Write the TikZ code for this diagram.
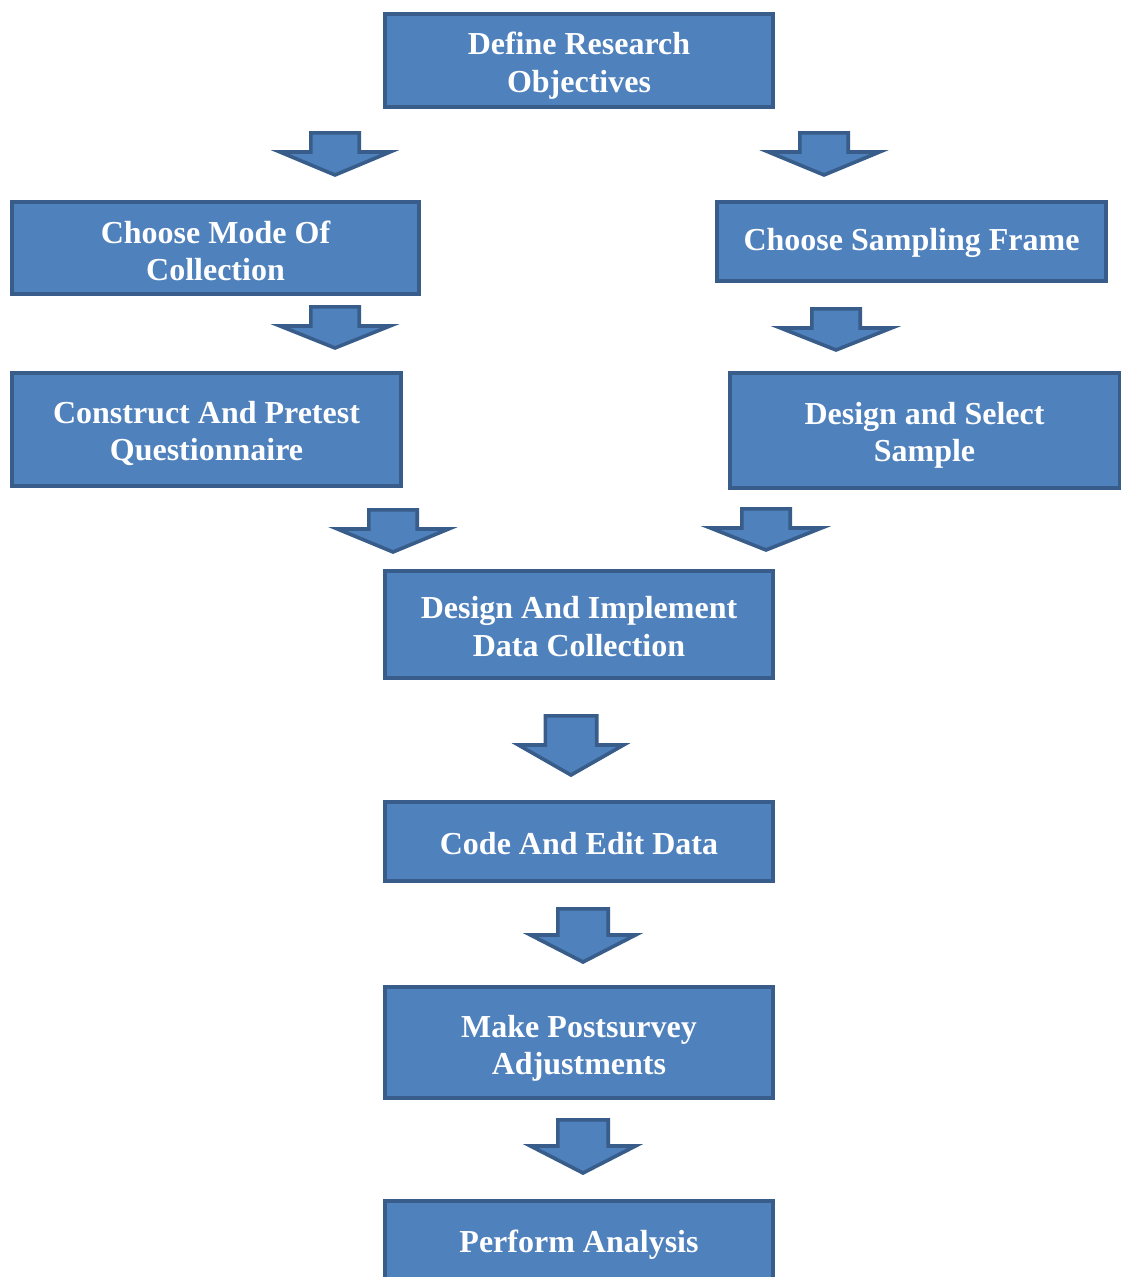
\documentclass[tikz,border=0pt]{standalone}
\usepackage{fontspec}
\setmainfont{Liberation Serif}
\definecolor{boxfill}{HTML}{4F81BD}
\definecolor{boxedge}{HTML}{385D8A}
\tikzset{
  stage/.style={draw=boxedge, fill=boxfill, line width=4pt, rectangle,
    inner sep=0pt, outer sep=0pt},
  stagetext/.style={align=center, text=white, inner sep=0pt,
    font=\fontsize{32}{37.5}\selectfont\bfseries},
  barrow/.style={draw=boxedge, fill=boxfill, line width=3.6pt, line join=miter}
}
% a stage box with its caption set slightly below the centre
\newcommand\stagebox[7][-3pt]{% [caption shift], name, centre x, centre y, width, height, caption
  \node[stage, minimum width=#5pt, minimum height=#6pt] (#2) at (#3,#4) {};
  \node[stagetext] (#2-text) at ([yshift=#1]#2.center) {#7};}
% block arrow pointing down: centre x, top, shaft half width, head half width, neck y, tip y
\newcommand\downblock[6]{%
  \draw[barrow] ({#1-#3},#2) -- ({#1+#3},#2) -- ({#1+#3},#5) -- ({#1+#4},#5)
    -- (#1,#6) -- ({#1-#4},#5) -- ({#1-#3},#5) -- cycle;}
\begin{document}
\begin{tikzpicture}[x=1pt, y=-1pt]
\useasboundingbox (0,0) rectangle (1121,1277);

\stagebox[-5pt]{objectives}{579}{60.5}{388}{93}{Define Research\\Objectives}
\stagebox{mode}{215.5}{248}{407}{92}{Choose Mode Of\\Collection}
\stagebox[-1.5pt]{frame}{911.5}{241.5}{389}{79}{Choose Sampling Frame}
\stagebox[-4pt]{questionnaire}{206.5}{429.5}{389}{113}{Construct And Pretest\\Questionnaire}
\stagebox[-5pt]{sample}{924.5}{430.5}{390}{115}{Design and Select\\Sample}
\stagebox[-2pt]{collection}{579}{624.5}{388}{107}{Design And Implement\\Data Collection}
\stagebox[-2pt]{coding}{579}{841.5}{388}{79}{Code And Edit Data}
\stagebox[-6pt]{adjust}{579}{1042.5}{388}{111}{Make Postsurvey\\Adjustments}
\stagebox{analysis}{579}{1242}{388}{83}{Perform Analysis}

% block arrows between the stages
\downblock{335}{132.8}{24.2}{55}{152}{175}
\downblock{824}{132.8}{24.2}{55.5}{152}{175}
\downblock{335}{306.8}{24.2}{55}{326}{348}
\downblock{836}{308.8}{24.2}{55.5}{328}{350}
\downblock{393}{509.8}{24.2}{55.5}{529}{552}
\downblock{766}{508.8}{24.2}{55.5}{528}{550}
\downblock{571}{715.8}{25.7}{52.5}{745}{775}
\downblock{583}{908.8}{25.2}{52.5}{935}{962}
\downblock{583}{1119.8}{25.2}{52.5}{1146}{1173}
\end{tikzpicture}
\end{document}
